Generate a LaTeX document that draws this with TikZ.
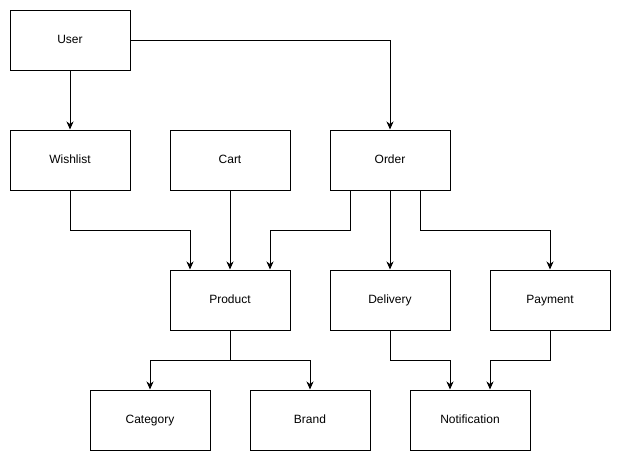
\documentclass[tikz,border=0pt]{standalone}
\usepackage{fontspec}
\setmainfont{Liberation Sans}
\usetikzlibrary{arrows.meta}
\begin{document}
\begin{tikzpicture}[x=1pt,y=-1pt,
  box/.style={draw=black,line width=1pt,minimum width=120pt,minimum height=60pt,inner sep=0pt,text height=9.4pt,text depth=1.6pt,font=\fontsize{12}{14}\selectfont},
  conn/.style={draw=black,line width=1pt,-{Stealth[length=8pt,width=7pt,inset=2.5pt]}}]
\useasboundingbox (0,0) rectangle (621,461);
\node[box] (user) at (70,40) {User};
\node[box] (wish) at (70,160) {Wishlist};
\node[box] (cart) at (230,160) {Cart};
\node[box] (order) at (390,160) {Order};
\node[box] (prod) at (230,300) {Product};
\node[box] (deliv) at (390,300) {Delivery};
\node[box] (pay) at (550,300) {Payment};
\node[box] (cat) at (150,420) {Category};
\node[box] (brand) at (310,420) {Brand};
\node[box] (notif) at (470,420) {Notification};
\draw[conn] (user) -- (wish);
\draw[conn] (user.east) -| (order.north);
\draw[conn] (wish.south) -- ++(0,40) -| ([xshift=-40pt]prod.north);
\draw[conn] (cart) -- (prod);
\draw[conn] ([xshift=-40pt]order.south) -- ++(0,40) -| ([xshift=40pt]prod.north);
\draw[conn] (order) -- (deliv);
\draw[conn] ([xshift=30pt]order.south) -- ++(0,40) -| (pay.north);
\draw[conn] (prod.south) -- ++(0,30) -| (cat.north);
\draw[conn] (prod.south) -- ++(0,30) -| (brand.north);
\draw[conn] (deliv.south) -- ++(0,30) -| ([xshift=-20pt]notif.north);
\draw[conn] (pay.south) -- ++(0,30) -| ([xshift=20pt]notif.north);
\end{tikzpicture}
\end{document}
